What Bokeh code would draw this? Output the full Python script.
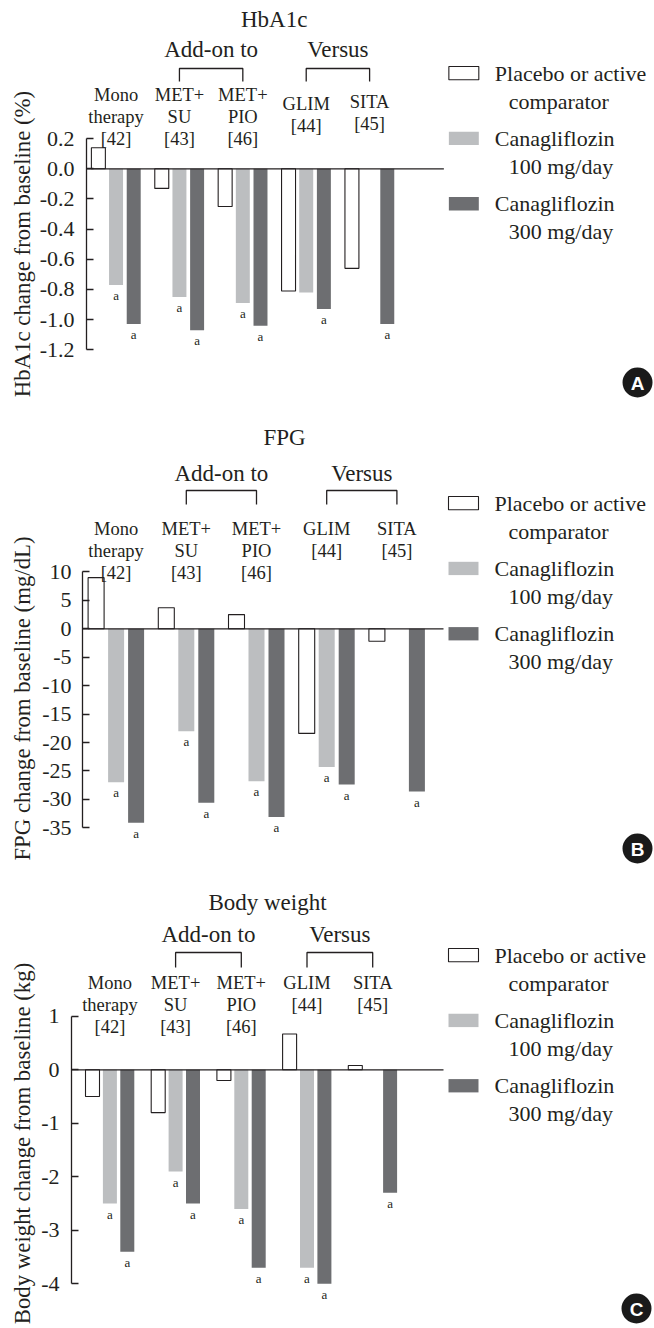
import math
from bokeh.plotting import figure
from bokeh.models import Range1d, FixedTicker
from bokeh.layouts import column, row
from bokeh.embed import file_html
from bokeh.resources import INLINE
from bokeh.core.properties import value

# ---------------- data ----------------
group_lines = [["Mono", "therapy", "[42]"],
               ["MET+", "SU", "[43]"],
               ["MET+", "PIO", "[46]"],
               ["GLIM", "[44]"],
               ["SITA", "[45]"]]
header_add_on = "Add-on to"
header_versus = "Versus"
add_on_groups = [1, 2]
versus_groups = [3, 4]
legend_lines = [["Placebo or active", "comparator"],
                ["Canagliflozin", "100 mg/day"],
                ["Canagliflozin", "300 mg/day"]]

hba1c_title = "HbA1c"
hba1c_ylabel = "HbA1c change from baseline (%)"
hba1c_placebo = [0.14, -0.13, -0.25, -0.81, -0.66]
hba1c_cana100 = [-0.77, -0.85, -0.89, -0.82, None]
hba1c_cana300 = [-1.03, -1.07, -1.04, -0.93, -1.03]
hba1c_sig100 = [True, True, True, False, False]
hba1c_sig300 = [True, True, True, True, True]
hba1c_ticks = [0.2, 0.0, -0.2, -0.4, -0.6, -0.8, -1.0, -1.2]
hba1c_tick_labels = ["0.2", "0.0", "-0.2", "-0.4", "-0.6", "-0.8", "-1.0", "-1.2"]

fpg_title = "FPG"
fpg_ylabel = "FPG change from baseline (mg/dL)"
fpg_placebo = [9.0, 3.7, 2.5, -18.4, -2.2]
fpg_cana100 = [-27.0, -18.0, -26.8, -24.3, None]
fpg_cana300 = [-34.1, -30.6, -33.1, -27.4, -28.6]
fpg_sig100 = [True, True, True, True, False]
fpg_sig300 = [True, True, True, True, True]
fpg_ticks = [10, 5, 0, -5, -10, -15, -20, -25, -30, -35]
fpg_tick_labels = ["10", "5", "0", "-5", "-10", "-15", "-20", "-25", "-30", "-35"]

bw_title = "Body weight"
bw_ylabel = "Body weight change from baseline (kg)"
bw_placebo = [-0.5, -0.8, -0.2, 0.67, 0.08]
bw_cana100 = [-2.5, -1.9, -2.6, -3.7, None]
bw_cana300 = [-3.4, -2.5, -3.7, -4.0, -2.3]
bw_sig100 = [True, True, True, True, False]
bw_sig300 = [True, True, True, True, True]
bw_ticks = [1, 0, -1, -2, -3, -4]
bw_tick_labels = ["1", "0", "-1", "-2", "-3", "-4"]

# ---------------- style / layout ----------------
SERIF = "Liberation Serif"
INK = "#231f20"
FILLS = ["#ffffff", "#bcbec0", "#6d6e71"]
PAGE_W = 654
LW = 36  # width of the strip that holds the rotated y-axis title
MID = 0.3375  # em distance from the alphabetic baseline up to the text middle

LAYOUT_A = dict(top=0, bottom=418, axis_x=85, zero_y=168.3, ppu=150.8,
                g0=114.6, gstep=63.5, slot=17.7, bar=14, base_end=443,
                title_x=273, title_y=27, head_y=57, br_top=68, br_bot=81,
                cat_y=[100.5, 100.5, 100.5, 110, 108], cat_dy=22, standoff=12,
                leg_top=66, leg_dy=65.3, ylab_x=22, ylab_y=243.5,
                letter_x=637, letter_y=382)
LAYOUT_B = dict(top=418, bottom=866, axis_x=82, zero_y=628.3, ppu=5.686,
                g0=115.6, gstep=70.2, slot=20, bar=16, base_end=443,
                title_x=284, title_y=445, head_y=481, br_top=490, br_bot=504,
                cat_y=[535, 535, 535, 535, 535], cat_dy=22, standoff=11,
                leg_top=496, leg_dy=65.3, ylab_x=22, ylab_y=698,
                letter_x=637, letter_y=848)
LAYOUT_C = dict(top=866, bottom=1328, axis_x=71, zero_y=1069.3, ppu=53.5,
                g0=109.4, gstep=65.7, slot=17.4, bar=14, base_end=443,
                title_x=267, title_y=910, head_y=942, br_top=952, br_bot=967,
                cat_y=[989, 989, 989, 989, 989], cat_dy=22, standoff=12,
                leg_top=948, leg_dy=65.3, ylab_x=22, ylab_y=1143,
                letter_x=636, letter_y=1308)


def mid(baseline, size):
    return baseline - MID * size


def plain(p):
    p.grid.visible = False
    p.outline_line_color = None
    p.background_fill_color = "white"
    p.border_fill_color = "white"


def make_panel(title, ylabel, series, sigs, ticks, tick_labels, letter, L):
    top, bottom = L["top"], L["bottom"]
    h = bottom - top

    # rotated y-axis title strip
    lab = figure(width=LW, height=h, x_range=Range1d(0, LW),
                 y_range=Range1d(-bottom, -top), title=None,
                 toolbar_location=None, tools="", output_backend="svg",
                 x_axis_location=None, y_axis_location=None,
                 min_border_left=0, min_border_right=0,
                 min_border_top=0, min_border_bottom=0)
    plain(lab)
    lab.text(x=[L["ylab_x"]], y=[-L["ylab_y"]], text=[ylabel], angle=math.pi / 2,
             text_align="center", text_baseline="middle",
             text_font=value(SERIF), text_font_size=value("22.8px"),
             text_color=INK)

    FL = L["axis_x"]
    gx0, gs = L["g0"], L["gstep"]
    y0, k = L["zero_y"], L["ppu"]
    xr = Range1d((FL - gx0) / gs, (PAGE_W - gx0) / gs)
    yr = Range1d((y0 - bottom) / k, (y0 - top) / k)
    p = figure(width=PAGE_W - LW, height=h, x_range=xr, y_range=yr,
               title=None, toolbar_location=None, tools="",
               output_backend="svg", x_axis_location=None,
               min_border_left=FL - LW, min_border_right=0,
               min_border_top=0, min_border_bottom=0)
    p.extra_x_ranges = {"px": Range1d(FL, PAGE_W)}
    p.extra_y_ranges = {"py": Range1d(bottom, top)}
    plain(p)

    ax = p.yaxis[0]
    ax.ticker = FixedTicker(ticks=ticks)
    ax.major_label_overrides = {t: s for t, s in zip(ticks, tick_labels)}
    ax.bounds = (min(ticks), max(ticks))
    ax.major_tick_in = 7
    ax.major_tick_out = 0
    ax.minor_tick_line_color = None
    ax.axis_line_color = INK
    ax.axis_line_width = 1.3
    ax.major_tick_line_color = INK
    ax.major_tick_line_width = 1.3
    ax.major_label_standoff = L["standoff"]
    ax.major_label_text_font = SERIF
    ax.major_label_text_font_size = "22px"
    ax.major_label_text_color = INK

    slot = L["slot"] / gs
    bw = L["bar"] / gs
    for j, vals in enumerate(series):
        xs = [i + (j - 1) * slot for i, v in enumerate(vals) if v is not None]
        tops = [v for v in vals if v is not None]
        p.vbar(x=xs, top=tops, bottom=0, width=bw, fill_color=FILLS[j],
               line_color=INK if j == 0 else None, line_width=1.1)

    # zero baseline
    p.segment(x0=[FL], x1=[L["base_end"]], y0=[0], y1=[0],
              x_range_name="px", line_color=INK, line_width=1.3)

    # significance markers
    for j in (1, 2):
        xs, ys = [], []
        for i, (v, s) in enumerate(zip(series[j], sigs[j - 1])):
            if v is not None and s:
                xs.append(i + (j - 1) * slot)
                ys.append(v)
        p.text(x=xs, y=ys, text=["a"] * len(xs), y_offset=15 - MID * 13,
               text_align="center", text_baseline="middle",
               text_font=value(SERIF), text_font_size=value("13px"),
               text_color=INK)

    # group labels
    xs, ys, ts = [], [], []
    for i, lines in enumerate(group_lines):
        for r, t in enumerate(lines):
            xs.append(i)
            ys.append(mid(L["cat_y"][i] + r * L["cat_dy"], 18.5))
            ts.append(t)
    p.text(x=xs, y=ys, text=ts, y_range_name="py", text_align="center",
           text_baseline="middle", text_font=value(SERIF),
           text_font_size=value("18.5px"), text_color=INK)

    # headers with brackets
    hx = [sum(add_on_groups) / 2, sum(versus_groups) / 2]
    p.text(x=hx, y=[mid(L["head_y"], 23)] * 2, text=[header_add_on, header_versus],
           y_range_name="py", text_align="center", text_baseline="middle",
           text_font=value(SERIF), text_font_size=value("23px"), text_color=INK)
    bxs, bys = [], []
    for a, b in (add_on_groups, versus_groups):
        bxs.append([a, a, b, b])
        bys.append([L["br_bot"], L["br_top"], L["br_top"], L["br_bot"]])
    p.multi_line(xs=bxs, ys=bys, y_range_name="py", line_color=INK, line_width=1.3)

    # title
    p.text(x=[L["title_x"]], y=[mid(L["title_y"], 23)], text=[title],
           x_range_name="px", y_range_name="py", text_align="center",
           text_baseline="middle", text_font=value(SERIF),
           text_font_size=value("23px"), text_color=INK)

    # legend
    for j, lines in enumerate(legend_lines):
        bt = L["leg_top"] + j * L["leg_dy"]
        bb = bt + 13.3
        p.quad(left=[448], right=[478], top=[bt], bottom=[bb],
               x_range_name="px", y_range_name="py", fill_color=FILLS[j],
               line_color=INK if j == 0 else None, line_width=1.1)
        p.text(x=[494, 508], y=[mid(bb + 0.7, 22), mid(bb + 28.7, 22)], text=lines,
               x_range_name="px", y_range_name="py", text_align="left",
               text_baseline="middle", text_font=value(SERIF),
               text_font_size=value("22px"), text_color=INK)

    # panel letter
    p.scatter(x=[L["letter_x"]], y=[L["letter_y"]], size=30, marker="circle",
              x_range_name="px", y_range_name="py", fill_color="#1a1a1a",
              line_color=None)
    p.text(x=[L["letter_x"]], y=[L["letter_y"] + 1], text=[letter],
           x_range_name="px", y_range_name="py", text_align="center",
           text_baseline="middle", text_font=value("Liberation Sans"),
           text_font_style="bold", text_font_size=value("19px"),
           text_color="white")
    return row(lab, p, spacing=0)


pA = make_panel(hba1c_title, hba1c_ylabel,
                [hba1c_placebo, hba1c_cana100, hba1c_cana300],
                [hba1c_sig100, hba1c_sig300], hba1c_ticks, hba1c_tick_labels,
                "A", LAYOUT_A)
pB = make_panel(fpg_title, fpg_ylabel,
                [fpg_placebo, fpg_cana100, fpg_cana300],
                [fpg_sig100, fpg_sig300], fpg_ticks, fpg_tick_labels,
                "B", LAYOUT_B)
pC = make_panel(bw_title, bw_ylabel,
                [bw_placebo, bw_cana100, bw_cana300],
                [bw_sig100, bw_sig300], bw_ticks, bw_tick_labels,
                "C", LAYOUT_C)

layout = column(pA, pB, pC, spacing=0)
open("out.html", "w").write(file_html(layout, INLINE))
